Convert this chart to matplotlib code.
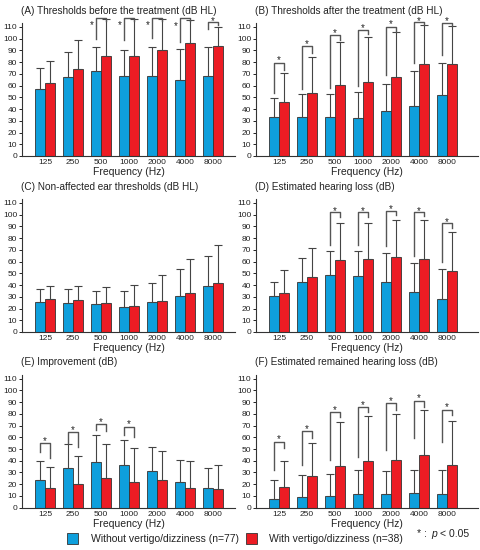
import matplotlib
matplotlib.use("Agg")
import matplotlib.pyplot as plt
from matplotlib.patches import Rectangle

plt.rcParams['font.family'] = ['Liberation Sans', 'DejaVu Sans']

freqs = ['125', '250', '500', '1000', '2000', '4000', '8000']
titles = ['(A) Thresholds before the treatment (dB HL)',
          '(B) Thresholds after the treatment (dB HL)',
          '(C) Non-affected ear thresholds (dB HL)',
          '(D) Estimated hearing loss (dB)',
          '(E) Improvement (dB)',
          '(F) Estimated remained hearing loss (dB)']

A_blue = [57, 67, 72, 68.5, 68.5, 64.5, 68]
A_blue_sd = [18, 22, 21, 22, 24.5, 26.5, 25]
A_red = [62, 74, 85.5, 85, 90.5, 96, 94]
A_red_sd = [18.5, 25, 31.5, 32, 26.5, 19.5, 15.5]

B_blue = [33, 33.5, 33, 32.5, 38, 43, 52]
B_blue_sd = [16.5, 19.5, 20, 22, 23.5, 29, 27]
B_red = [46, 54, 60.5, 63, 67, 78.5, 78.5]
B_red_sd = [24.5, 30, 37, 38.5, 38.5, 33, 32.5]

C_blue = [25.5, 24.5, 23.5, 21, 25.5, 30.5, 39.5]
C_blue_sd = [11.5, 12, 11.5, 13.5, 16.5, 23, 25.5]
C_red = [28.5, 27, 24.5, 22.5, 26.5, 33.5, 41.5]
C_red_sd = [10.5, 12, 13.5, 17.5, 22, 29, 32.5]

D_blue = [31, 43, 48.5, 47.5, 43, 34, 28.5]
D_blue_sd = [12, 20, 20.5, 21.5, 24.5, 24.5, 25]
D_red = [33.5, 47, 61, 62, 64, 62, 52]
D_red_sd = [19.5, 24.5, 32, 31, 31, 33, 33]

E_blue = [24, 34, 39, 36, 31, 21.5, 16.5]
E_blue_sd = [16, 20.5, 23, 22, 21, 19.5, 17.5]
E_red = [16.5, 20.5, 25.5, 22, 23.5, 17, 16]
E_red_sd = [18, 23.5, 28.5, 28.5, 24.5, 23, 20.5]

F_blue = [7.5, 9, 10, 11.5, 12, 12.5, 12]
F_blue_sd = [16.5, 19, 19, 20.5, 19.5, 20, 20.5]
F_red = [17.5, 27, 35.5, 40, 40.5, 45, 36.5]
F_red_sd = [22.5, 28, 37.5, 38, 39.5, 38, 37.5]

# significance brackets: (group, left-leg bottom, top, right-leg bottom, star x shift, star y)
A_sig = [(2, 100, 117.5, 115, -0.32, 112.5), (3, 99, 117.5, 115, -0.32, 112.5),
         (4, 100.5, 117.5, 115, -0.32, 112.5), (5, 97.5, 117.5, 115, -0.32, 111.7),
         (6, 108, 114, 111.5, 0, 116.5)]
B_sig = [(0, 54, 79.6, 73.5, 0, 82.5), (1, 57, 93.8, 87.5, 0, 96.6),
         (2, 58, 103.2, 99, 0, 106), (3, 60, 107.4, 103.5, 0, 110),
         (4, 69, 110.3, 106, 0, 113.5), (5, 79.6, 114.5, 111.7, 0, 116.5),
         (6, 86, 113.7, 111, 0, 116.5)]
C_sig = []
D_sig = [(2, 74, 102, 98, 0, 104.5), (3, 74, 102, 98, 0, 104.5),
         (4, 73, 103, 100, 0, 106), (5, 65, 102, 99, 0, 104.5),
         (6, 60, 92.5, 89, 0, 95)]
E_sig = [(0, 47.6, 55.3, 42, 0, 58), (1, 54.7, 64.6, 52, 0, 67.5),
         (2, 66, 71.7, 65.5, 0, 74.5), (3, 62, 69, 60, 0, 72)]
F_sig = [(0, 32, 56, 50.5, 0, 60), (1, 36, 65.5, 59, 0, 68.4),
         (2, 40.5, 81.7, 77, 0, 84.5), (3, 43.4, 86, 81.7, 0, 89),
         (4, 49, 89.3, 83, 0, 92), (5, 59, 91, 86, 0, 94.4),
         (6, 56, 83, 79, 0, 86.5)]

panels = [(A_blue, A_blue_sd, A_red, A_red_sd, A_sig),
          (B_blue, B_blue_sd, B_red, B_red_sd, B_sig),
          (C_blue, C_blue_sd, C_red, C_red_sd, C_sig),
          (D_blue, D_blue_sd, D_red, D_red_sd, D_sig),
          (E_blue, E_blue_sd, E_red, E_red_sd, E_sig),
          (F_blue, F_blue_sd, F_red, F_red_sd, F_sig)]

legend_labels = ['Without vertigo/dizziness (n=77)', 'With vertigo/dizziness (n=38)']

BLUE = '#0E9FDC'
RED = '#EC1C24'
EDGE = '#333333'
TXT = '#222222'
W, H = 480, 550
fig = plt.figure(figsize=(W / 100, H / 100), dpi=100)

rows_bottom = [156, 332, 507.7]
col_left = [22, 256]
col_right = [235, 478]
pxu = 28.0
first_c = 23.0
ymax = 113
ppu = 1.174

x = list(range(len(freqs)))
bw = 0.34
for i, (bl, bsd, rd, rsd, sig) in enumerate(panels):
    r, c = divmod(i, 2)
    bot = rows_bottom[r]
    top = bot - ymax * ppu
    l, rr = col_left[c], col_right[c]
    ax = fig.add_axes([l / W, 1 - bot / H, (rr - l) / W, (bot - top) / H])
    xl = -first_c / pxu
    ax.set_xlim(xl, xl + (rr - l) / pxu)
    ax.set_ylim(0, ymax)
    xb = [v - bw / 2 for v in x]
    xr = [v + bw / 2 for v in x]
    ax.bar(xb, bl, width=bw, color=BLUE, edgecolor=EDGE, linewidth=0.6, zorder=2)
    ax.bar(xr, rd, width=bw, color=RED, edgecolor=EDGE, linewidth=0.6, zorder=2)
    ekw = dict(fmt='none', ecolor='#444444', elinewidth=0.8, capsize=3,
               capthick=0.8, zorder=3, clip_on=False)
    e1 = ax.errorbar(xb, bl, yerr=[[0] * 7, bsd], **ekw)
    e2 = ax.errorbar(xr, rd, yerr=[[0] * 7, rsd], **ekw)
    for e in (e1, e2):
        for art in e.lines[1] + e.lines[2]:
            art.set_clip_on(False)
    for (g, lb, tp, rb, sx, sy) in sig:
        ax.plot([g - bw / 2, g - bw / 2, g + bw / 2, g + bw / 2], [lb, tp, tp, rb],
                color='#555555', lw=1.0, clip_on=False, zorder=4)
        ax.annotate('*', (g + sx, sy), xytext=(0, -1), textcoords='offset points',
                    ha='center', va='center', fontsize=7, color=TXT,
                    annotation_clip=False)
    ax.set_yticks(range(0, 111, 10))
    ax.set_xticks(x)
    ax.set_xticklabels(freqs)
    ax.tick_params(axis='y', direction='out', length=2, width=0.7, labelsize=6,
                   pad=1.5, colors=TXT)
    ax.tick_params(axis='x', length=0, labelsize=6, pad=2.5, colors=TXT)
    for s in ('top', 'right'):
        ax.spines[s].set_visible(False)
    for s in ('left', 'bottom'):
        ax.spines[s].set_color('#333333')
        ax.spines[s].set_linewidth(0.8)
    ax.set_xlabel('Frequency (Hz)', fontsize=7.5, labelpad=0.5, color=TXT)
    ax.set_title(titles[i], loc='left', fontsize=7.2, pad=7, color=TXT, x=-0.005)

# legend
def rect(x0, y0, w, h, col):
    fig.patches.append(Rectangle((x0 / W, 1 - (y0 + h) / H), w / W, h / H,
                                 transform=fig.transFigure, facecolor=col,
                                 edgecolor=EDGE, linewidth=0.6))

rect(67, 533, 11, 10.5, BLUE)
fig.text(91 / W, 1 - 538.5 / H, legend_labels[0], fontsize=7.5, va='center', color=TXT)
rect(246, 533, 11, 10.5, RED)
fig.text(269 / W, 1 - 538.5 / H, legend_labels[1], fontsize=7.5, va='center', color=TXT)
fig.text(417 / W, 1 - 534 / H, '* :', fontsize=7.5, va='center', color=TXT)
fig.text(431 / W, 1 - 534 / H, 'p', fontsize=7.5, va='center', style='italic', color=TXT)
fig.text(439.5 / W, 1 - 534 / H, '< 0.05', fontsize=7.5, va='center', color=TXT)

fig.savefig('out.png', dpi=100)
